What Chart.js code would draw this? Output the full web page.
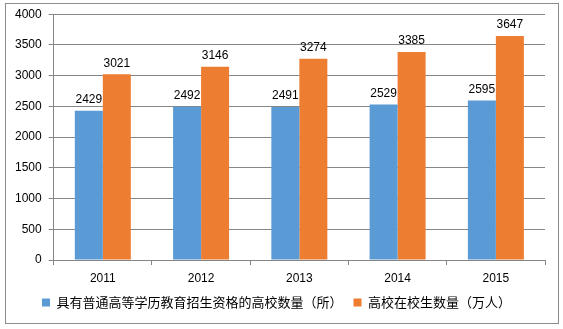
<!DOCTYPE html>
<html>
<head>
<meta charset="utf-8">
<script src="https://cdn.jsdelivr.net/npm/chart.js@4/dist/chart.umd.min.js"></script>
<style>
  html, body { margin: 0; padding: 0; background: #fff; }
  #wrap { position: relative; width: 563px; height: 329px; }
  #frame { position: absolute; left: 5px; top: 3px; width: 554px; height: 321px; border: 1px solid #8c8c8c; box-sizing: border-box; }
  canvas { position: absolute; left: 0; top: 0; }
</style>
</head>
<body>
<div id="wrap">
  <div id="frame"></div>
  <canvas id="c" width="563" height="329"></canvas>
</div>
<script>
const years = ['2011', '2012', '2013', '2014', '2015'];
const schools = [2429, 2492, 2491, 2529, 2595];
const students = [3021, 3146, 3274, 3385, 3647];
const seriesNames = ['具有普通高等学历教育招生资格的高校数量（所）', '高校在校生数量（万人）'];

const latinFont = '"Liberation Sans", Arial, sans-serif';
const cjkFont = '"Noto Sans CJK SC", "Liberation Sans", sans-serif';

// writes each bar's value just above it
const valueLabels = {
  id: 'valueLabels',
  afterDatasetsDraw(chart) {
    const ctx = chart.ctx;
    ctx.save();
    ctx.font = '12px ' + latinFont;
    ctx.fillStyle = '#000';
    ctx.textAlign = 'center';
    ctx.textBaseline = 'bottom';
    chart.data.datasets.forEach((ds, i) => {
      const meta = chart.getDatasetMeta(i);
      meta.data.forEach((bar, j) => {
        ctx.fillText(String(ds.data[j]), bar.x, bar.y - 5);
      });
    });
    ctx.restore();
  }
};

new Chart(document.getElementById('c'), {
  type: 'bar',
  data: {
    labels: years,
    datasets: [
      { label: seriesNames[0], data: schools, backgroundColor: '#5B9BD5', borderWidth: 0 },
      { label: seriesNames[1], data: students, backgroundColor: '#ED7D31', borderWidth: 0 }
    ]
  },
  options: {
    responsive: false,
    animation: false,
    devicePixelRatio: 1,
    layout: { padding: { left: 8, right: 18, top: 12, bottom: 10 } },
    datasets: { bar: { categoryPercentage: 0.57, barPercentage: 1.0 } },
    scales: {
      x: {
        grid: { offset: true, drawOnChartArea: false, color: '#868686', tickLength: 5 },
        border: { color: '#868686' },
        ticks: { color: '#000', font: { family: latinFont, size: 12 }, padding: 6 },
        afterFit: (scale) => { scale.height = 25; }
      },
      y: {
        min: 0, max: 4000,
        grid: { color: '#868686', tickLength: 5 },
        border: { color: '#868686' },
        ticks: {
          stepSize: 500, color: '#000', font: { family: latinFont, size: 12 }, padding: 7,
          callback: (v) => String(v)
        }
      }
    },
    plugins: {
      legend: {
        position: 'bottom',
        labels: {
          boxWidth: 8, boxHeight: 8, color: '#000', padding: 11,
          font: { family: cjkFont, size: 13 }
        }
      },
      tooltip: { enabled: false }
    }
  },
  plugins: [valueLabels]
});
</script>
</body>
</html>
